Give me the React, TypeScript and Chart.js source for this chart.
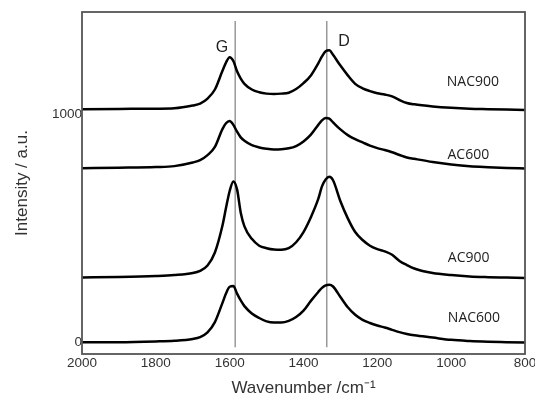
import React, { useEffect, useRef } from "react";
import { Chart, registerables } from "chart.js";

Chart.register(...registerables);

const wavenumbers = [2000, 1900, 1800, 1750, 1700, 1680, 1660, 1640, 1620, 1610, 1600, 1590, 1580, 1570, 1560, 1540, 1520, 1500, 1480, 1460, 1440, 1420, 1400, 1380, 1360, 1350, 1340, 1330, 1320, 1300, 1280, 1260, 1240, 1220, 1200, 1180, 1160, 1140, 1120, 1100, 1050, 1000, 950, 900, 850, 800];

const nac900 = [1024, 1025, 1026, 1028, 1040, 1048, 1070, 1110, 1190, 1228, 1252, 1235, 1190, 1158, 1135, 1110, 1098, 1092, 1090, 1092, 1096, 1112, 1138, 1172, 1225, 1255, 1278, 1282, 1262, 1215, 1172, 1135, 1115, 1103, 1094, 1088, 1080, 1064, 1051, 1045, 1036, 1030, 1026, 1024, 1022, 1020];

const ac600 = [765, 767, 770, 774, 790, 800, 822, 858, 935, 962, 972, 955, 925, 900, 885, 866, 856, 850, 847, 848, 852, 862, 882, 912, 955, 975, 985, 982, 966, 935, 910, 892, 878, 864, 853, 845, 835, 823, 812, 806, 792, 781, 773, 769, 766, 764];

const ac900 = [286, 288, 292, 296, 305, 315, 338, 395, 510, 590, 665, 707, 672, 570, 510, 455, 425, 414, 408, 407, 414, 440, 485, 550, 630, 685, 715, 727, 712, 620, 545, 485, 450, 425, 410, 400, 385, 358, 340, 325, 305, 296, 290, 287, 285, 283];

const nac600 = [2, 2, 5, 8, 16, 24, 45, 90, 172, 215, 245, 248, 215, 185, 160, 128, 108, 93, 88, 88, 95, 112, 140, 183, 222, 240, 251, 254, 246, 200, 155, 122, 100, 86, 75, 66, 56, 46, 38, 32, 22, 12, 7, 4, 2, 0];

const seriesNames = ["NAC900", "AC600", "AC900", "NAC600"];
const seriesValues = [nac900, ac600, ac900, nac600];

const bandPositions = [1585, 1337];
const bandNames = ["G", "D"];
const bandLineRange = [-20, 1410];

const xTicks = [2000, 1800, 1600, 1400, 1200, 1000, 800];
const yTicks = [0, 1000];

// label anchors in data units (wavenumber, intensity)
const seriesLabelAnchors = [
  { x: 1012, y: 1145 },
  { x: 1010, y: 824 },
  { x: 1009, y: 372 },
  { x: 1009, y: 108 },
];
const bandLabelAnchors = [
  { x: 1621, y: 1296 },
  { x: 1290, y: 1322 },
];

const labelPlugin = {
  id: "labels",
  afterDatasetsDraw(chart: any) {
    const { ctx, scales, chartArea } = chart;
    const xs = scales.x;
    const ys = scales.y;
    ctx.save();
    ctx.textBaseline = "middle";
    ctx.fillStyle = "#222";
    ctx.font = '14px "Open Sans"';
    ctx.textAlign = "left";
    seriesNames.forEach((n, i) => {
      const a = seriesLabelAnchors[i];
      ctx.fillText(n, xs.getPixelForValue(a.x), ys.getPixelForValue(a.y));
    });
    ctx.font = '16px "Liberation Sans"';
    ctx.textAlign = "center";
    bandNames.forEach((n, i) => {
      const a = bandLabelAnchors[i];
      ctx.fillText(n, xs.getPixelForValue(a.x), ys.getPixelForValue(a.y));
    });
    ctx.strokeStyle = "#555";
    ctx.lineWidth = 1.8;
    ctx.strokeRect(chartArea.left, chartArea.top, chartArea.right - chartArea.left, chartArea.bottom - chartArea.top);
    ctx.restore();
  },
};

export default function App() {
  const ref = useRef<HTMLCanvasElement>(null);
  useEffect(() => {
    document.body.style.margin = "0";
    const datasets: any[] = seriesValues.map((vals, i) => ({
      label: seriesNames[i],
      data: wavenumbers.map((w, j) => ({ x: w, y: vals[j] })),
      borderColor: "#000",
      borderWidth: 2.5,
      pointRadius: 0,
      cubicInterpolationMode: "monotone",
      fill: false,
      order: 1,
    }));
    bandPositions.forEach((b, i) => {
      datasets.push({
        label: bandNames[i],
        data: bandLineRange.map((v) => ({ x: b, y: v })),
        borderColor: "#999",
        borderWidth: 1.5,
        pointRadius: 0,
        fill: false,
        order: 10,
      });
    });
    const chart = new Chart(ref.current!, {
      type: "line",
      data: { datasets },
      plugins: [labelPlugin],
      options: {
        animation: false,
        responsive: false,
        layout: { padding: { left: 0, right: 10, top: 12, bottom: 0 } },
        plugins: { legend: { display: false }, tooltip: { enabled: false } },
        scales: {
          x: {
            type: "linear",
            min: 800,
            max: 2000,
            reverse: true,
            grid: { display: false, drawTicks: false },
            border: { display: false },
            afterBuildTicks: (s: any) => {
              s.ticks = xTicks.map((v) => ({ value: v }));
            },
            afterFit: (s: any) => {
              s.height = 43;
              s.paddingLeft = 0;
              s.paddingRight = 0;
            },
            ticks: {
              color: "#333",
              padding: 1,
              maxRotation: 0,
              autoSkip: false,
              font: { family: '"Liberation Sans"', size: 13.5 },
              callback: (v: any) => String(v),
            },
            title: {
              display: true,
              text: "Wavenumber /cm⁻¹",
              color: "#333",
              font: { family: '"Liberation Sans"', size: 17, lineHeight: 1 },
              padding: { top: 0, bottom: 0.5 },
            },
          },
          y: {
            type: "linear",
            min: -50,
            max: 1450,
            grid: { display: false, drawTicks: false },
            border: { display: false },
            afterBuildTicks: (s: any) => {
              s.ticks = yTicks.map((v) => ({ value: v }));
            },
            afterFit: (s: any) => {
              s.width = 82;
              s.paddingTop = 0;
              s.paddingBottom = 0;
            },
            ticks: {
              color: "#333",
              padding: 0,
              font: { family: '"Liberation Sans"', size: 13.5 },
              callback: (v: any) => String(v),
            },
            title: {
              display: true,
              text: "Intensity / a.u.",
              color: "#333",
              font: { family: '"Liberation Sans"', size: 17, lineHeight: 1 },
              padding: { top: 14, bottom: 0 },
            },
          },
        },
      },
    });
    return () => chart.destroy();
  }, []);
  return (
    <div style={{ position: "absolute", left: 0, top: 0, width: 535, height: 397, background: "#fff" }}>
      <canvas ref={ref} width={535} height={397} />
    </div>
  );
}
